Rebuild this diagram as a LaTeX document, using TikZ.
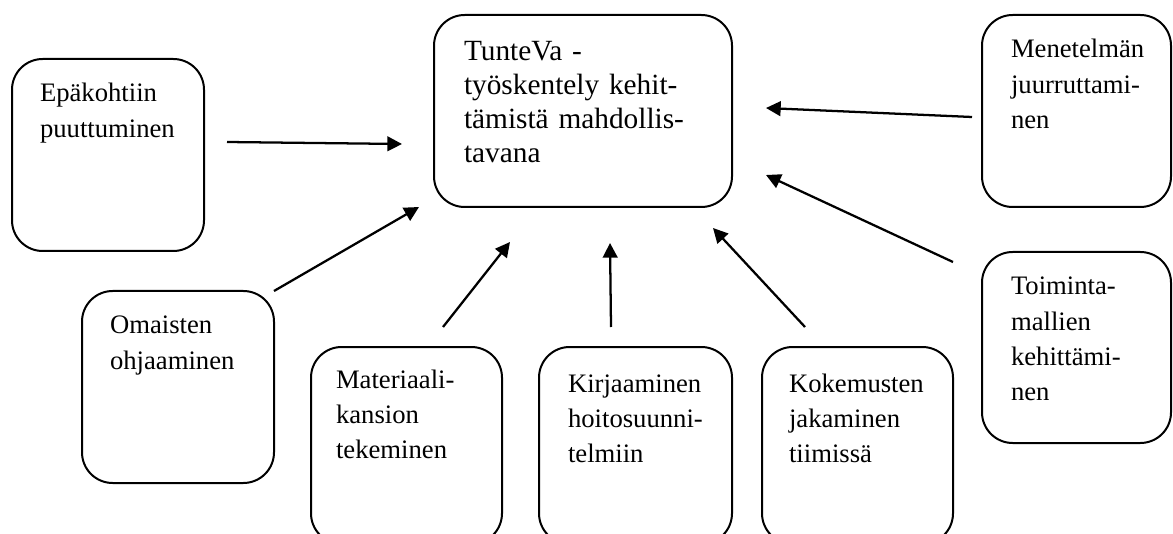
\documentclass[tikz,border=0pt]{standalone}
\usepackage{fontspec}
\setmainfont{Liberation Serif}
\usetikzlibrary{arrows.meta,calc}
\begin{document}
\begin{tikzpicture}[x=0.75pt,y=-0.75pt,
  box/.style={draw, line width=1.5pt, rounded corners=23pt, inner sep=0pt, outer sep=0pt},
  txt/.style={anchor=base west, inner sep=0pt, outer sep=0pt, align=left, text width=130pt,
    font=\fontsize{20}{26.5}\selectfont},
  bigtxt/.style={txt, text width=200pt, font=\fontsize{22}{25.5}\selectfont},
  arr/.style={line width=1.7pt, -{Triangle[length=11pt,width=11pt]}}]
\clip (0,0) rectangle (1173,534);
\fill[white] (0,0) rectangle (1173,534);
% boxes
\node[box, minimum width=144pt, minimum height=144pt] (b1) at (108,155) {};
\node[box, minimum width=223.5pt, minimum height=144pt] (c) at (583,111) {};
\node[box, minimum width=141.75pt, minimum height=144pt] (m) at (1076.5,111) {};
\node[box, minimum width=144pt, minimum height=144pt] (o) at (178,387) {};
\node[box, minimum width=143.25pt, minimum height=147.75pt] (ma) at (406.5,445.5) {};
\node[box, minimum width=144.75pt, minimum height=147.75pt] (k) at (635.5,445.5) {};
\node[box, minimum width=143.25pt, minimum height=147.75pt] (ko) at (857.5,445.5) {};
\node[box, minimum width=141.75pt, minimum height=143.25pt] (t) at (1076.5,347.5) {};
% texts
\node[txt] (b1t) at ($(b1.north west)+(28,43)$) {Epäkohtiin\\puuttuminen};
\node[bigtxt] (ct) at ($(c.north west)+(30,46)$) {TunteVa -\\työskentely kehit-\\tämistä mahdollis-\\tavana};
\node[txt] (mt) at ($(m.north west)+(29,43)$) {Menetelmän\\juurruttami-\\nen};
\node[txt] (ot) at ($(o.north west)+(28,43)$) {Omaisten\\ohjaaminen};
\node[txt] (mat) at ($(ma.north west)+(25,41)$) {Materiaali-\\kansion\\tekeminen};
\node[txt] (kt) at ($(k.north west)+(29,45)$) {Kirjaaminen\\hoitosuunni-\\telmiin};
\node[txt] (kot) at ($(ko.north west)+(27,45)$) {Kokemusten\\jakaminen\\tiimissä};
\node[txt] (tt) at ($(t.north west)+(29,43)$) {Toiminta-\\mallien\\kehittämi-\\nen};
% arrow end points
\coordinate (a1s) at (227,142); \coordinate (a1e) at (402,144);
\coordinate (a2s) at (274,291); \coordinate (a2e) at (419,207);
\coordinate (a3s) at (443,327); \coordinate (a3e) at (510,242);
\coordinate (a4s) at (611,327); \coordinate (a4e) at (610,243);
\coordinate (a5s) at (805,327); \coordinate (a5e) at (713,228);
\coordinate (a6s) at (953,262); \coordinate (a6e) at (766,175);
\coordinate (a7s) at (972,117); \coordinate (a7e) at (766,108);
\draw[arr] (a1s) -- (a1e);
\draw[arr] (a2s) -- (a2e);
\draw[arr] (a3s) -- (a3e);
\draw[arr] (a4s) -- (a4e);
\draw[arr] (a5s) -- (a5e);
\draw[arr] (a6s) -- (a6e);
\draw[arr] (a7s) -- (a7e);
\end{tikzpicture}
\end{document}
